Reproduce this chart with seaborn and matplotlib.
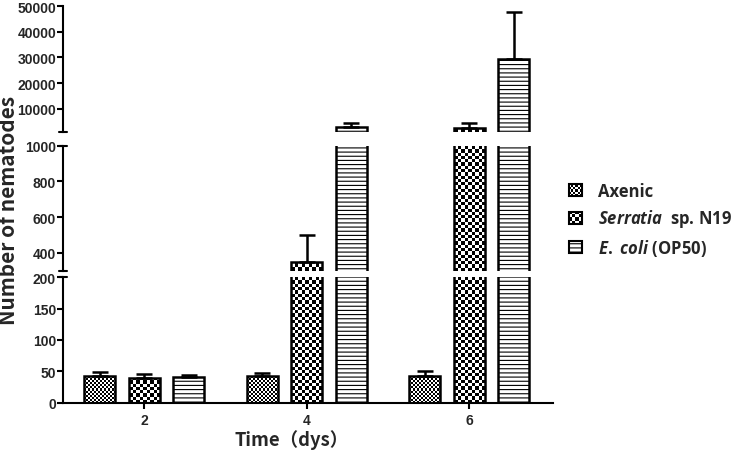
import numpy as np
import pandas as pd
import matplotlib
matplotlib.use("Agg")
import matplotlib.pyplot as plt
import seaborn as sns
from matplotlib.patches import Patch, Rectangle
from matplotlib.legend_handler import HandlerBase
from matplotlib.image import BboxImage
from matplotlib.transforms import Bbox, TransformedBbox
from matplotlib.colors import Normalize

# values (mean, upper error)
days = ["2", "4", "6"]
groups = ["Axenic", "Serratia sp. N19", "E. coli (OP50)"]
axenic_mean = [43, 42, 43]
axenic_err = [6, 5, 7]
serratia_mean = [40, 346, 2450]
serratia_err = [5, 155, 1900]
ecoli_mean = [40.5, 3100, 29300]
ecoli_err = [3.5, 1250, 18500]

legend_labels = ["Axenic", r"$\mathit{Serratia}$  sp. N19", r"$\mathit{E.\ coli}$ (OP50)"]
# fill style per group: checker cell size in pixels, or a hatch
checker_cell = [2.0, 3.3, None]
hatches = [None, None, "----"]

sns.set_style("white")
plt.rcParams["font.family"] = ["Liberation Sans", "DejaVu Sans"]
plt.rcParams["font.weight"] = "bold"
plt.rcParams["mathtext.fontset"] = "custom"
plt.rcParams["mathtext.rm"] = "Open Sans:bold"
plt.rcParams["mathtext.it"] = "Open Sans:italic:bold"
plt.rcParams["hatch.linewidth"] = 0.8

means = [axenic_mean, serratia_mean, ecoli_mean]
errs = [axenic_err, serratia_err, ecoli_err]
rows = []
for g, m, e in zip(groups, means, errs):
    for d, mv, ev in zip(days, m, e):
        rows.append({"day": d, "group": g, "mean": mv, "err": ev})
df = pd.DataFrame(rows)


def checker(ny, nx):
    return np.add.outer(np.arange(ny), np.arange(nx)) % 2


def checker_fill(ax, patch, cell):
    lo, hi = ax.get_ylim()
    x0 = patch.get_x()
    x1 = x0 + patch.get_width()
    y0 = max(patch.get_y(), lo)
    y1 = min(patch.get_y() + patch.get_height(), hi)
    if y1 <= y0:
        return
    (px0, py0), (px1, py1) = ax.transData.transform([(x0, y0), (x1, y1)])
    nx = max(1, int(round((px1 - px0) / cell)))
    ny = max(1, int(round((py1 - py0) / cell)))
    im = ax.imshow(checker(ny, nx), extent=(x0, x1, y0, y1), origin="lower",
                   aspect="auto", cmap="gray", vmin=0, vmax=1,
                   interpolation="nearest", zorder=0.9)
    im.set_clip_path(patch)


class CheckerHandler(HandlerBase):
    def __init__(self, n):
        super().__init__()
        self.n = n

    def create_artists(self, legend, orig_handle, xdescent, ydescent,
                       width, height, fontsize, trans):
        bb = TransformedBbox(Bbox.from_bounds(-xdescent, -ydescent, width, height), trans)
        img = BboxImage(bb, cmap="gray", norm=Normalize(0, 1),
                        interpolation="nearest")
        img.set_data(checker(self.n, self.n))
        rect = Rectangle((-xdescent, -ydescent), width, height,
                         facecolor="none", edgecolor="black", lw=1.5,
                         transform=trans)
        return [img, rect]


fig = plt.figure(figsize=(7.42, 4.52), dpi=100)
L, W = 63 / 742, 490 / 742
ax_top = fig.add_axes([L, 1 - 133 / 452, W, 126 / 452])
ax_mid = fig.add_axes([L, 1 - 271.7 / 452, W, 125 / 452])
ax_bot = fig.add_axes([L, 1 - 403.7 / 452, W, 125.4 / 452])

limits = {ax_top: (1000, 50000), ax_mid: (300, 1000), ax_bot: (0, 200)}
yticks = {ax_top: [10000, 20000, 30000, 40000, 50000],
          ax_mid: [400, 600, 800, 1000],
          ax_bot: [0, 50, 100, 150, 200]}

for ax in (ax_top, ax_mid, ax_bot):
    sns.barplot(data=df, x="day", y="mean", hue="group", hue_order=groups,
                palette=["white"] * 3, saturation=1, width=0.82, gap=0.3,
                errorbar=None, edgecolor="black", linewidth=1.8,
                legend=False, ax=ax)
    ax.set_xlim(-0.5, 2.515)
    ax.set_ylim(*limits[ax])
    lo, hi = limits[ax]
    for cont, h, c, g in zip(ax.containers, hatches, checker_cell, groups):
        sub = df[df["group"] == g]
        xs = np.array([p.get_x() + p.get_width() / 2 for p in cont.patches])
        for p in cont.patches:
            if p.get_y() + p.get_height() <= lo:
                p.set_visible(False)
                continue
            if h:
                p.set_hatch(h)
            if c:
                p.set_facecolor("none")
                checker_fill(ax, p, c)
        # only error bars that reach into this panel
        keep = (sub["mean"] + sub["err"]).to_numpy() > lo
        if keep.any():
            ax.errorbar(xs[keep], sub["mean"][keep],
                        yerr=[np.zeros(keep.sum()), sub["err"][keep]],
                        fmt="none", ecolor="black", elinewidth=1.8, capsize=6,
                        capthick=1.8, zorder=1)
    ax.set_xlim(-0.5, 2.515)
    ax.set_ylim(*limits[ax])
    ax.set_yticks(yticks[ax])
    ax.set_xlabel("")
    ax.set_ylabel("")
    for s in ("top", "right", "bottom"):
        ax.spines[s].set_visible(False)
    ax.spines["left"].set_linewidth(1.5)
    ax.spines["left"].set_color("black")
    ax.tick_params(axis="y", direction="out", length=4, width=1.5,
                   labelsize=10, pad=1, left=True, color="black")
    ax.patch.set_alpha(0)

for ax in (ax_top, ax_mid):
    ax.tick_params(axis="x", bottom=False, labelbottom=False)

ax_bot.spines["bottom"].set_visible(True)
ax_bot.spines["bottom"].set_linewidth(1.5)
ax_bot.spines["bottom"].set_color("black")
ax_bot.tick_params(axis="x", direction="out", length=4, width=1.5,
                   labelsize=10, bottom=True, color="black")


# break marks on the y axis
def cap(ax, y):
    ax.plot([-0.009, 0.009], [y, y], transform=ax.transAxes, color="black",
            lw=1.5, clip_on=False)


cap(ax_top, 0)
cap(ax_mid, 1)
cap(ax_mid, 0)
cap(ax_bot, 1)

fig.text(9 / 742, 1 - 210 / 452, "Number of nematodes", rotation=90,
         ha="center", va="center", fontsize=15, fontweight="bold",
         family=["Noto Sans CJK SC", "DejaVu Sans"])
fig.text(292 / 742, 1 - 440 / 452, "Time（dys）", ha="center", va="center",
         fontsize=13.3, fontweight="bold",
         family=["Noto Sans CJK SC", "DejaVu Sans"])

handles = [Patch(facecolor="white", edgecolor="black", label=lab)
           for lab in legend_labels]
handles[2].set_hatch(hatches[2])
handles[2].set_linewidth(1.5)
fig.legend(handles, legend_labels, loc="center left",
           bbox_to_anchor=(569 / 742, 1 - 221 / 452), frameon=False,
           prop={"family": "Open Sans", "weight": "bold", "size": 12},
           handlelength=0.75, handleheight=0.75, handletextpad=1.0,
           labelspacing=0.45, borderpad=0, borderaxespad=0,
           handler_map={handles[0]: CheckerHandler(6),
                        handles[1]: CheckerHandler(4)})

fig.savefig("out.png", dpi=100)
